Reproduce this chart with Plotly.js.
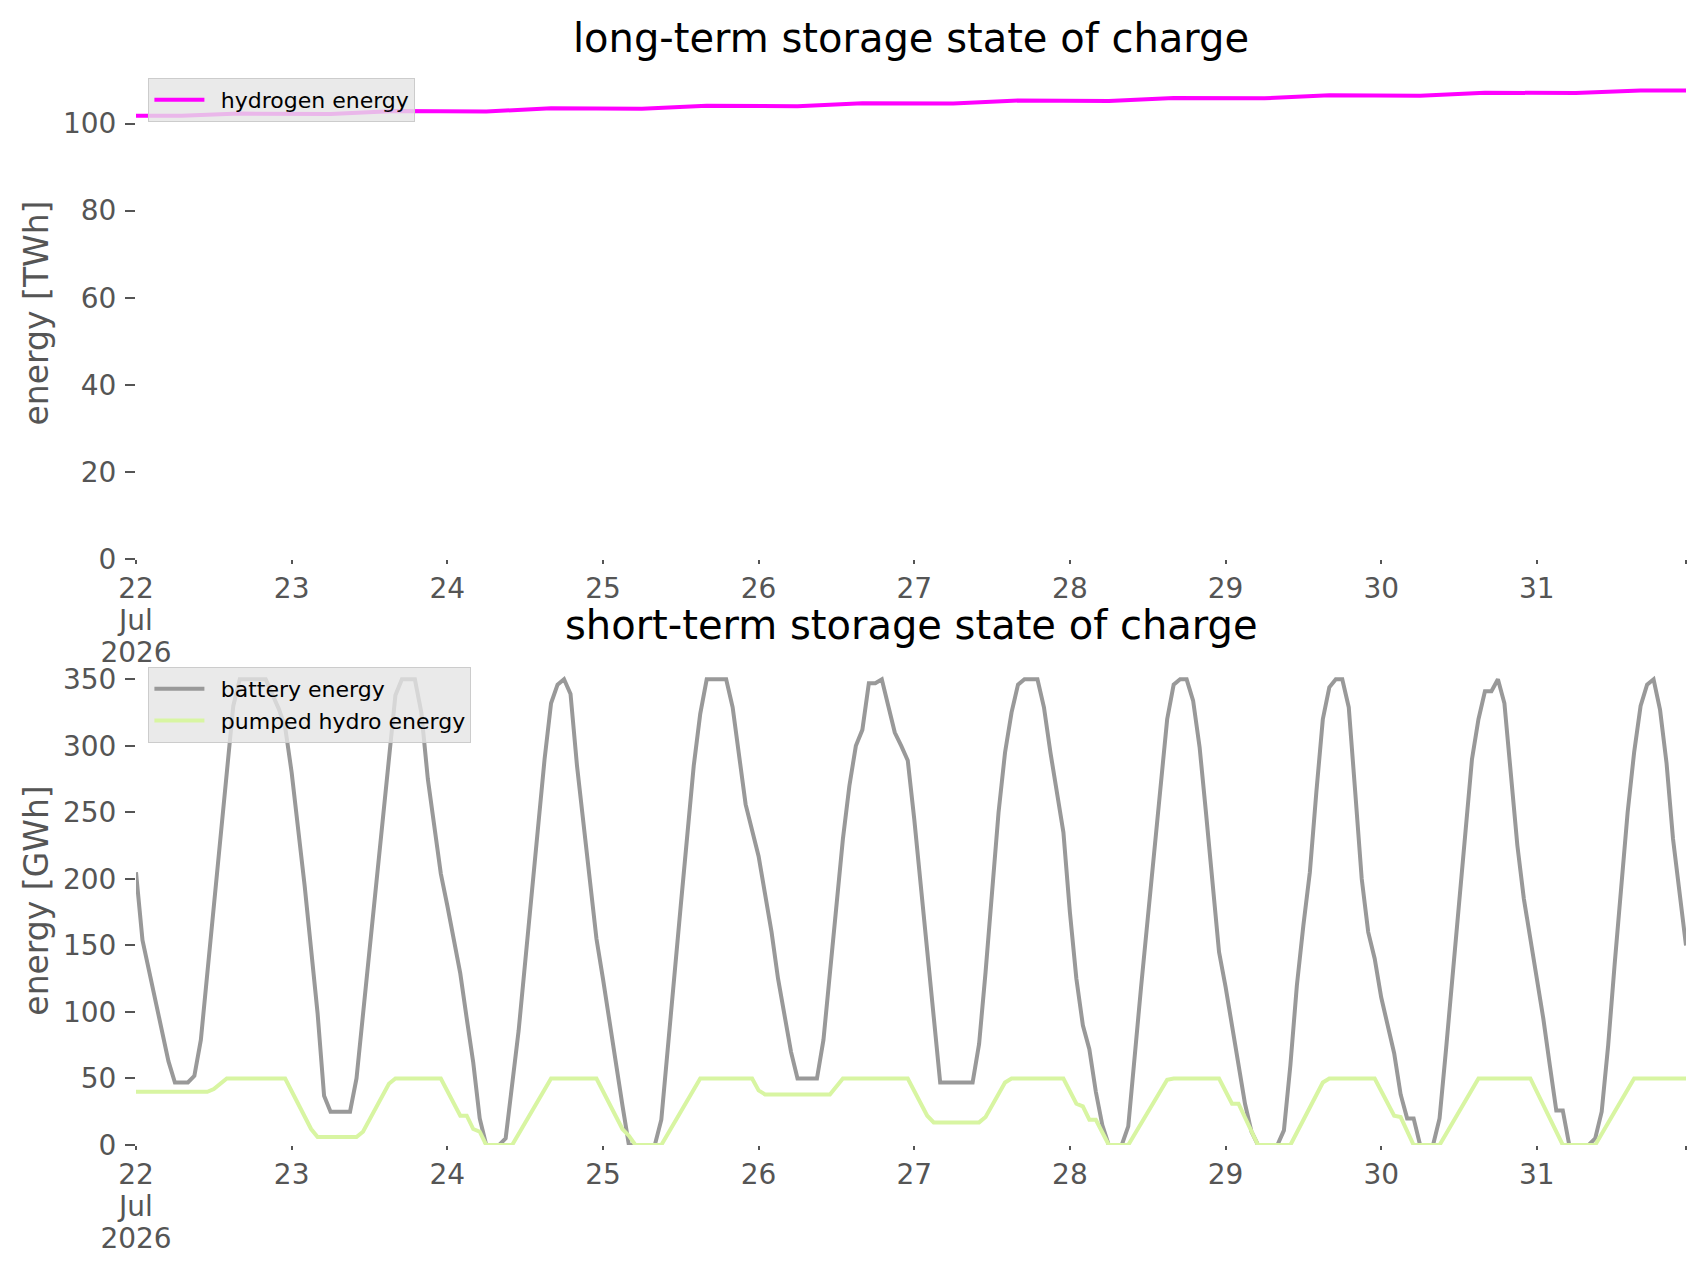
<!DOCTYPE html>
<html>
<head>
<meta charset="utf-8">
<script src="https://cdn.plot.ly/plotly-3.0.1.min.js"></script>
<style>
  body { margin: 0; background: #fff; }
  #chart { width: 1706px; height: 1277px; }
</style>
</head>
<body>
<div id="chart"></div>
<script>
// hours after 22 Jul 2026 00:00 at the line's corners
const h2Hours = [0, 7, 16, 30, 40, 54, 64, 78, 88, 102, 112, 126, 136, 150, 160, 174, 184, 198, 208, 222, 232, 239];
const h2Energy = [101.8, 101.8, 102.3, 102.2, 102.9, 102.8, 103.5, 103.4, 104.1, 104.0, 104.7, 104.6,
  105.3, 105.2, 105.9, 105.8, 106.5, 106.4, 107.1, 107.0, 107.6, 107.6];

const batteryHours = [0, 1, 5, 6, 8, 9, 10, 15, 16, 20, 21, 22, 23, 24, 26, 28, 29, 30, 33, 34,
  40, 41, 43, 44, 45, 47, 48, 50, 51, 52, 53, 54, 56, 57, 59, 61, 63, 64, 65, 66, 67, 68, 70, 71,
  72, 73, 74, 75, 76, 80, 81, 82, 84, 86, 87, 88, 91, 92, 93, 94, 96, 98, 99, 100, 101, 102, 105,
  106, 107, 109, 110, 111, 112, 113, 114, 115, 116, 117, 118, 119, 120, 121, 122, 123, 124, 129,
  130, 131, 132, 133, 134, 135, 136, 137, 139, 140, 141, 142, 143, 144, 145, 146, 147, 148, 149,
  150, 152, 153, 154, 155, 159, 160, 161, 162, 163, 164, 165, 166, 167, 168, 169, 170, 171, 172,
  173, 176, 177, 178, 179, 180, 181, 182, 183, 184, 185, 186, 187, 188, 189, 190, 191, 192, 193,
  194, 195, 196, 197, 198, 200, 201, 202, 206, 207, 208, 209, 210, 211, 212, 213, 214, 215, 216,
  217, 218, 219, 220, 221, 224, 225, 226, 227, 228, 230, 231, 232, 233, 234, 235, 236, 237, 238, 239];
const batteryEnergy = [205, 154, 63, 47, 47, 52, 79, 330, 350, 350, 339, 328, 314, 280, 195, 99, 37, 25, 25, 50,
  338, 350, 350, 325, 275, 204, 180, 129, 95, 62, 20, 0, 0, 5, 86, 190, 290, 332, 346, 350, 339, 285, 200, 155,
  125, 92, 58, 30, 0, 0, 19, 75, 180, 285, 324, 350, 350, 329, 292, 256, 217, 160, 125, 99, 70, 50, 50,
  79, 130, 230, 270, 300, 312, 347, 347, 350, 330, 310, 300, 289, 245, 195, 145, 95, 47, 47,
  76, 130, 190, 250, 295, 325, 346, 350, 350, 329, 295, 265, 235, 175, 125, 90, 72, 40, 15,
  0, 0, 14, 70, 120, 320, 346, 350, 350, 334, 299, 249, 199, 145, 119, 91, 61, 31, 10,
  0, 0, 11, 60, 120, 165, 205, 265, 320, 344, 350, 350, 329, 265, 200, 160, 140, 111, 91,
  69, 38, 20, 20, 0, 0, 20, 72, 290, 320, 341, 341, 350, 332, 275, 225, 185, 155, 125,
  95, 60, 26, 26, 0, 0, 5, 25, 75, 136, 250, 295, 330, 346, 350, 327, 287, 230, 190, 150];

const hydroHours = [0, 11, 12, 14, 23, 27, 28, 34, 35, 39, 40, 47, 50, 51, 52, 53, 54, 58, 64, 71,
  75, 76, 77, 81, 87, 95, 96, 97, 107, 109, 119, 122, 123, 130, 131, 134, 135, 143, 145, 146, 147,
  148, 150, 153, 159, 160, 167, 169, 170, 173, 178, 183, 184, 191, 194, 195, 197, 201, 207, 215,
  220, 225, 231, 239];
const hydroEnergy = [40, 40, 42, 50, 50, 12, 6, 6, 10, 46, 50, 50, 22, 22, 12, 10, 0, 0, 50, 50,
  12, 7, 0, 0, 50, 50, 41, 38, 38, 50, 50, 22, 17, 17, 21, 47, 50, 50, 31, 29, 19,
  19, 0, 0, 49, 50, 50, 31, 31, 0, 0, 47, 50, 50, 22, 21, 0, 0, 50, 50,
  0, 0, 50, 50];

const dayTicks = ['2026-07-22', '2026-07-23', '2026-07-24', '2026-07-25', '2026-07-26',
  '2026-07-27', '2026-07-28', '2026-07-29', '2026-07-30', '2026-07-31', '2026-07-31 23:00'];
const dayLabels = ['22<br>Jul<br>2026', '23', '24', '25', '26', '27', '28', '29', '30', '31', ''];

function toDate(h) {
  const d = new Date(Date.UTC(2026, 6, 22) + h * 3600e3);
  const p = (n) => String(n).padStart(2, '0');
  return d.getUTCFullYear() + '-' + p(d.getUTCMonth() + 1) + '-' + p(d.getUTCDate()) +
    ' ' + p(d.getUTCHours()) + ':' + p(d.getUTCMinutes());
}

const font = 'DejaVu Sans, sans-serif';
const grey = '#555555';
const gap = '\u00a0\u2009'; // a little room between legend line and label

const traces = [
  {
    x: h2Hours.map(toDate), y: h2Energy, name: gap + 'hydrogen energy',
    mode: 'lines', line: { color: '#ff00ff', width: 4 },
    xaxis: 'x', yaxis: 'y', legend: 'legend',
  },
  {
    x: batteryHours.map(toDate), y: batteryEnergy, name: gap + 'battery energy',
    mode: 'lines', line: { color: '#999999', width: 4 },
    xaxis: 'x2', yaxis: 'y2', legend: 'legend2',
  },
  {
    x: hydroHours.map(toDate), y: hydroEnergy, name: gap + 'pumped hydro energy',
    mode: 'lines', line: { color: '#d8f5a2', width: 4 },
    xaxis: 'x2', yaxis: 'y2', legend: 'legend2',
  },
];

const xAxis = (anchor) => ({
  anchor: anchor,
  type: 'date',
  range: ['2026-07-22 00:00', '2026-07-31 23:00'],
  tickmode: 'array',
  tickvals: dayTicks,
  ticktext: dayLabels,
  ticks: 'outside', ticklen: 4, tickwidth: 2, tickcolor: grey,
  tickfont: { family: font, size: 28, color: grey },
  showgrid: false, zeroline: false, showline: false,
});

const yAxis = (anchor, domain, range, dtick, title) => ({
  anchor: anchor,
  domain: domain,
  range: range,
  dtick: dtick,
  ticks: 'outside', ticklen: 10, tickwidth: 2, tickcolor: grey,
  ticklabelstandoff: 3,
  tickfont: { family: font, size: 28, color: grey },
  showgrid: false, zeroline: false, showline: false,
  title: { text: title, font: { family: font, size: 33, color: grey }, standoff: 4 },
});

const legendStyle = (y) => ({
  x: 0.008, y: y, xanchor: 'left', yanchor: 'top',
  bgcolor: 'rgba(229,229,229,0.8)', bordercolor: '#cccccc', borderwidth: 1,
  font: { family: font, size: 22, color: '#000' },
  itemwidth: 50,
});

const layout = {
  width: 1706,
  height: 1277,
  margin: { l: 136, r: 20, t: 67, b: 132 },
  paper_bgcolor: '#fff',
  plot_bgcolor: '#fff',
  showlegend: true,
  xaxis: xAxis('y'),
  yaxis: yAxis('x', [0.5436, 1], [0, 113], 20, 'energy [TWh]'),
  xaxis2: xAxis('y2'),
  yaxis2: yAxis('x2', [0, 0.4536], [0, 367.5], 50, 'energy [GWh]'),
  legend: legendStyle(0.9898),
  legend2: legendStyle(0.4434),
  annotations: [
    {
      text: 'long-term storage state of charge', xref: 'paper', yref: 'paper',
      x: 0.5, y: 1.0035, xanchor: 'center', yanchor: 'bottom', showarrow: false,
      font: { family: font, size: 40, color: '#000' },
    },
    {
      text: 'short-term storage state of charge', xref: 'paper', yref: 'paper',
      x: 0.5, y: 0.4595, xanchor: 'center', yanchor: 'bottom', showarrow: false,
      font: { family: font, size: 40, color: '#000' },
    },
  ],
};

Plotly.newPlot('chart', traces, layout, { displayModeBar: false }).then((gd) => {
  // tighter line spacing for the stacked "22 / Jul / 2026" date labels on both x axes
  gd.querySelectorAll('.xtick text tspan.line, .x2tick text tspan.line').forEach((t) => {
    const dy = t.getAttribute('dy') || '';
    const em = parseFloat(dy);
    if (dy.endsWith('em') && em > 0) t.setAttribute('dy', (em * 1.15 / 1.3).toFixed(3) + 'em');
  });
});
</script>
</body>
</html>
